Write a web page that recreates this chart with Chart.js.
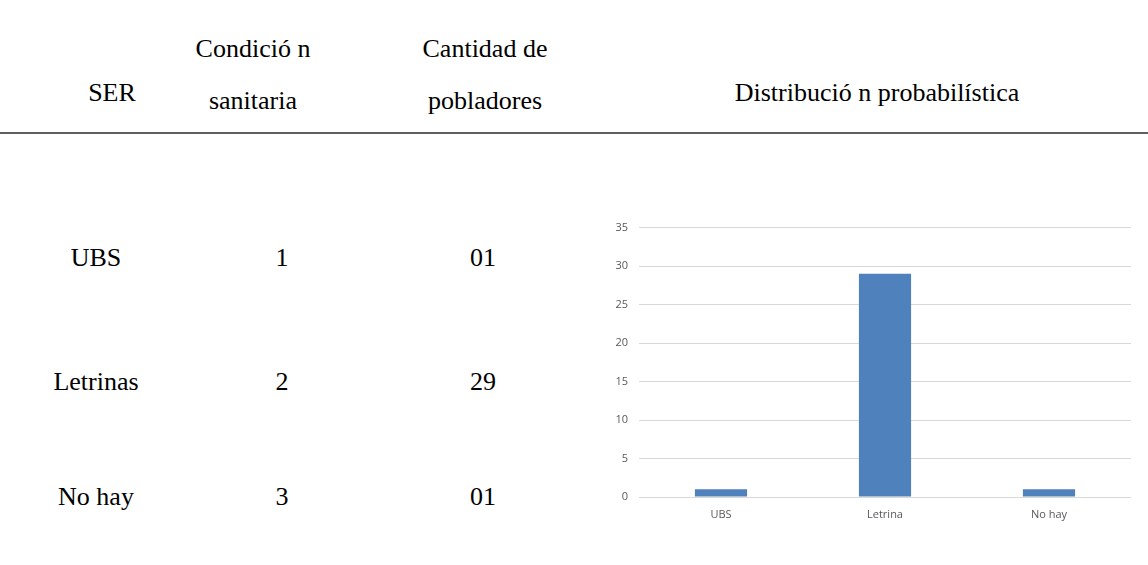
<!DOCTYPE html>
<html lang="es">
<head>
    <meta charset="UTF-8">
    <meta name="viewport" content="width=device-width, initial-scale=1.0">
    <script src="https://cdn.jsdelivr.net/npm/chart.js"></script>
    <title>Distribución probabilística</title>
    <style>
        body { margin: 0; width: 1148px; height: 565px; background: #fff; position: relative; overflow: hidden; }
        .t { position: absolute; font-family: "Liberation Serif", "Times New Roman", serif; font-size: 26px;
             line-height: 26px; color: #000; white-space: nowrap; }
        #rule { position: absolute; left: 0; top: 132px; width: 1148px; height: 2px; background: #5f5f5f; }
        #box { position: absolute; left: 590px; top: 210px; width: 550px; height: 320px; }
    </style>
    <script>
        // datos de la tabla
        let categorias = ['UBS', 'Letrina', 'No hay'];
        let pobladores = [1, 29, 1];
        let filas_ser = ['UBS', 'Letrinas', 'No hay'];
        let filas_cond = ['1', '2', '3'];
        let filas_cant = ['01', '29', '01'];
        let y_ticks = [0, 5, 10, 15, 20, 25, 30, 35];

        // texto centrado en cx con la linea base en y
        function fn_texto(txt, cx, base){
            let d = document.createElement('div');
            d.className = 't';
            d.textContent = txt;
            d.style.top = (base - 21.8) + 'px';
            document.body.appendChild(d);
            let w = d.getBoundingClientRect().width;
            d.style.left = (cx - w / 2) + 'px';
        }

        window.onload = function(){
            fn_texto('SER', 112, 102);
            fn_texto('Condició n', 253, 58);
            fn_texto('sanitaria', 253, 110);
            fn_texto('Cantidad de', 485, 58);
            fn_texto('pobladores', 485, 110);
            fn_texto('Distribució n probabilística', 877, 102);

            let bases = [267, 391, 506];
            for(let i = 0; i < filas_ser.length; i++){
                fn_texto(filas_ser[i], 96, bases[i]);
                fn_texto(filas_cond[i], 282, bases[i]);
                fn_texto(filas_cant[i], 483, bases[i]);
            }

            let ctx = document.getElementById('myChart');
            let gris = '#595959';
            let fuente = { family: '"Open Sans", "Noto Sans", sans-serif', size: 11 };
            new Chart(ctx, {
                type : 'bar'
                ,data : {
                    labels : categorias
                    ,datasets : [{
                        label : 'Cantidad de pobladores'
                        ,data : pobladores
                        ,backgroundColor : '#4f81bd'
                        ,barPercentage : 0.318
                        ,categoryPercentage : 1
                    }]
                }
                ,options : {
                    responsive : false
                    ,animation : false
                    ,layout : { padding : { top : 15, right : 9, bottom : 0, left : 0 } }
                    ,plugins : { legend : { display : false }, tooltip : { enabled : false } }
                    ,scales : {
                        x : {
                            grid : { display : false, drawTicks : false }
                            ,border : { display : false }
                            ,ticks : { color : gris, font : fuente, padding : 11 }
                            ,afterFit : function(s){ s.height = 33; }
                        }
                        ,y : {
                            min : 0, max : 35
                            ,grid : { color : '#d9d9d9', lineWidth : 1, drawTicks : false }
                            ,border : { display : false }
                            ,afterBuildTicks : function(s){ s.ticks = y_ticks.map(v => ({ value : v })); }
                            ,ticks : { color : gris, font : fuente, padding : 11 }
                            ,afterFit : function(s){ s.width = 49; }
                        }
                    }
                }
            });
        };
    </script>
</head>
<body>
    <div id="rule"></div>
    <div id="box">
        <canvas id="myChart" width="550" height="320"></canvas>
    </div>
</body>
</html>
